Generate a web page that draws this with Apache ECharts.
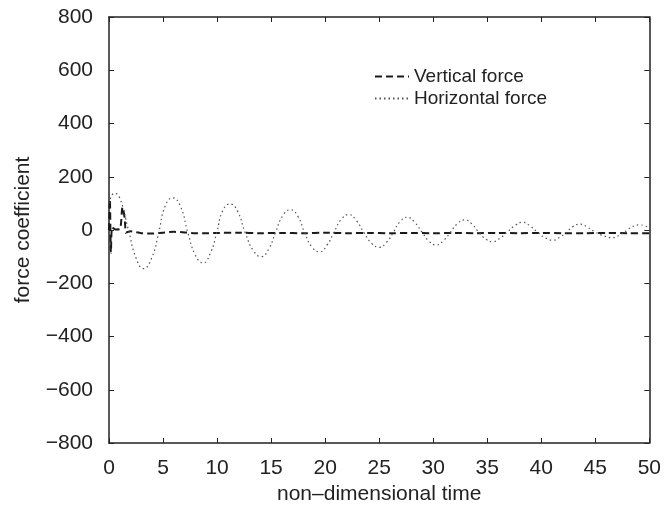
<!DOCTYPE html>
<html>
<head>
<meta charset="utf-8">
<script src="https://cdn.jsdelivr.net/npm/echarts@6/dist/echarts.min.js"></script>
<style>
  html, body { margin: 0; padding: 0; background: #fff; }
  #main { width: 664px; height: 512px; }
</style>
</head>
<body>
<div id="main"></div>
<script>
// vertical force (dashed) : [time, value]
var verticalForce = [
  [0, 0], [0.08, 115], [0.18, -85], [0.3, 10], [0.6, 2], [1.0, 3], [1.25, 85], [1.45, 45],
  [1.5, 15], [1.55, -10], [2, -5], [3, -12], [4, -13], [5, -10], [6, -7], [7, -9], [8, -12],
  [9, -12], [10, -11], [12, -10], [14, -12], [16, -11], [18, -12], [20, -10], [22, -12],
  [24, -11], [26, -12], [28, -11], [30, -12], [32, -11], [34, -12], [36, -11], [38, -12],
  [40, -11], [42, -12], [44, -12], [46, -11], [48, -12], [50, -12]
];
// horizontal force (dotted) : [time, value]
var horizontalForce = [
  [0, 100], [0.5, 138], [1.0, 120], [1.8, 0], [2.5, -105], [3.2, -145], [4.0, -100], [4.6, -10],
  [5.2, 90], [5.9, 121], [6.6, 90], [7.3, -10], [8.0, -95], [8.7, -124], [9.4, -85], [10.0, -5],
  [10.5, 70], [11.2, 98], [11.9, 70], [12.6, -10], [13.4, -80], [14.1, -100], [14.8, -70],
  [15.4, -10], [16.1, 55], [16.8, 76], [17.5, 50], [18.1, -10], [18.8, -65], [19.5, -82],
  [20.2, -55], [20.8, -10], [21.5, 40], [22.2, 58], [22.9, 35], [23.6, -10], [24.3, -50],
  [25.0, -65], [25.7, -45], [26.3, -10], [26.9, 30], [27.6, 48], [28.3, 28], [29.0, -10],
  [29.6, -42], [30.3, -56], [31.0, -38], [31.6, -8], [32.2, 22], [32.9, 38], [33.6, 22],
  [34.2, -8], [34.9, -35], [35.5, -44], [36.2, -30], [36.9, -6], [37.6, 18], [38.3, 29],
  [39.0, 14], [39.7, -10], [40.4, -30], [41.1, -38], [41.8, -25], [42.4, -6], [42.9, 12],
  [43.6, 22], [44.3, 10], [45.0, -8], [45.8, -22], [46.6, -29], [47.3, -18], [47.9, -2],
  [48.4, 12], [49.1, 19], [49.6, 15], [50, 8]
];
var xTicks = [0, 5, 10, 15, 20, 25, 30, 35, 40, 45, 50];
var yTicks = [-800, -600, -400, -200, 0, 200, 400, 600, 800];

var font = "Liberation Sans";
var ink = "#222";

var chartDom = document.getElementById("main");
var myChart = echarts.init(chartDom);

var frameAxis = {
  axisLine: { show: true, onZero: false, lineStyle: { color: ink, width: 1.5 } },
  axisTick: { show: true, inside: true, length: 5, lineStyle: { color: ink } },
  splitLine: { show: false }
};

var option = {
  animation: false,
  backgroundColor: "#fff",
  grid: { left: 109, right: 12, top: 17, bottom: 69, containLabel: false },
  legend: {
    orient: "vertical",
    left: 369,
    top: 62,
    itemWidth: 34,
    itemHeight: 14,
    itemGap: 3,
    itemStyle: { opacity: 0 },
    textStyle: { fontFamily: font, fontSize: 19, color: ink },
    data: ["Vertical force", "Horizontal force"]
  },
  xAxis: [
    Object.assign({
      type: "value",
      min: xTicks[0],
      max: xTicks[xTicks.length - 1],
      interval: 5,
      name: "non\u2013dimensional time",
      nameLocation: "middle",
      nameGap: 41,
      nameTextStyle: { fontFamily: font, fontSize: 21, color: ink },
      axisLabel: { fontFamily: font, fontSize: 21, color: ink, margin: 15 }
    }, frameAxis),
    Object.assign({
      type: "value",
      position: "top",
      min: 0, max: 50, interval: 5,
      axisLabel: { show: false }
    }, frameAxis)
  ],
  yAxis: [
    Object.assign({
      type: "value",
      min: yTicks[0],
      max: yTicks[yTicks.length - 1],
      interval: 200,
      name: "force coefficient",
      nameLocation: "middle",
      nameGap: 75,
      nameTextStyle: { fontFamily: font, fontSize: 21, color: ink },
      axisLabel: {
        fontFamily: font, fontSize: 21, color: ink, margin: 16,
        formatter: function (v) { return v < 0 ? "\u2212" + Math.abs(v) : String(v); }
      }
    }, frameAxis),
    Object.assign({
      type: "value",
      position: "right",
      min: -800, max: 800, interval: 200,
      axisLabel: { show: false }
    }, frameAxis)
  ],
  series: [
    {
      name: "Vertical force",
      type: "line",
      data: verticalForce,
      showSymbol: false,
      symbol: "none",
      smooth: 0.3,
      lineStyle: { color: "#1a1a1a", width: 2, type: [7, 4] },
      itemStyle: { color: "#1a1a1a" }
    },
    {
      name: "Horizontal force",
      type: "line",
      data: horizontalForce,
      showSymbol: false,
      symbol: "none",
      smooth: 0.5,
      lineStyle: { color: "#555", width: 1.2, type: [1.5, 3] },
      itemStyle: { color: "#555" }
    }
  ]
};

myChart.setOption(option);
</script>
</body>
</html>
